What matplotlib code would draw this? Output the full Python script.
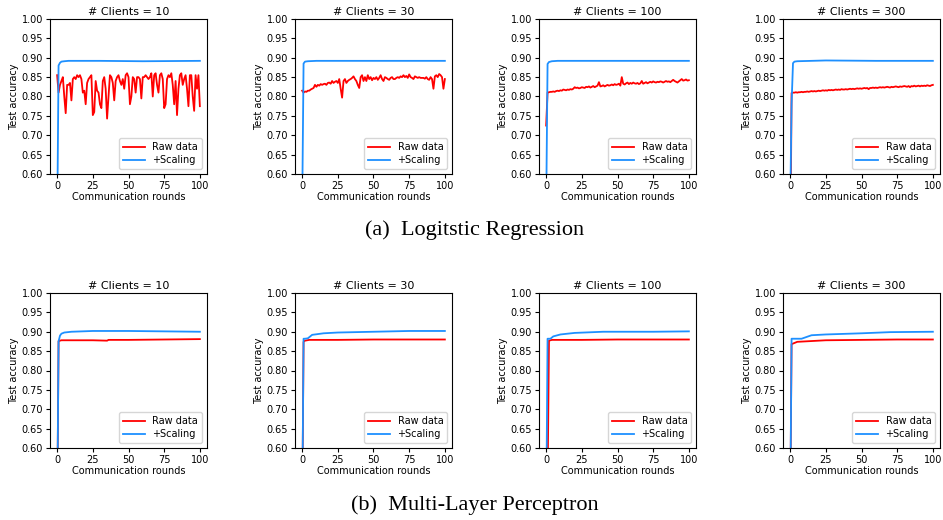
import matplotlib
matplotlib.use('Agg')
import matplotlib.pyplot as plt

clients = [10, 30, 100, 300]
rounds = list(range(101))
red = 'red'
blue = '#1E90FF'

# Logistic regression, raw data (one value per round)
lr_raw_10 = [0.855, 0.810, 0.830, 0.840, 0.850, 0.800, 0.757, 0.830, 0.830, 0.835,
             0.790, 0.845, 0.850, 0.845, 0.855, 0.850, 0.855, 0.845, 0.810, 0.815,
             0.780, 0.835, 0.845, 0.850, 0.855, 0.752, 0.760, 0.840, 0.815, 0.810,
             0.780, 0.770, 0.840, 0.850, 0.820, 0.743, 0.800, 0.855, 0.850, 0.835,
             0.790, 0.840, 0.850, 0.855, 0.840, 0.830, 0.845, 0.820, 0.855, 0.860,
             0.850, 0.780, 0.800, 0.850, 0.845, 0.810, 0.850, 0.850, 0.845, 0.795,
             0.850, 0.850, 0.855, 0.850, 0.845, 0.850, 0.860, 0.800, 0.855, 0.860,
             0.830, 0.810, 0.855, 0.860, 0.845, 0.770, 0.780, 0.845, 0.855, 0.850,
             0.860, 0.830, 0.780, 0.840, 0.752, 0.820, 0.855, 0.860, 0.830, 0.845,
             0.855, 0.820, 0.775, 0.855, 0.855, 0.800, 0.763, 0.855, 0.820, 0.855,
             0.775]
lr_raw_30 = [0.815, 0.810, 0.813, 0.812, 0.815, 0.815, 0.818, 0.820, 0.822, 0.830,
             0.825, 0.830, 0.828, 0.832, 0.830, 0.832, 0.833, 0.830, 0.835, 0.836,
             0.833, 0.840, 0.835, 0.838, 0.840, 0.835, 0.845, 0.820, 0.797, 0.840,
             0.845, 0.835, 0.840, 0.843, 0.845, 0.848, 0.852, 0.845, 0.840, 0.830,
             0.822, 0.850, 0.855, 0.840, 0.850, 0.840, 0.855, 0.845, 0.850, 0.842,
             0.848, 0.845, 0.850, 0.843, 0.848, 0.855, 0.845, 0.840, 0.850, 0.848,
             0.845, 0.843, 0.848, 0.850, 0.845, 0.845, 0.848, 0.850, 0.848, 0.852,
             0.850, 0.855, 0.850, 0.853, 0.848, 0.857, 0.850, 0.848, 0.845, 0.852,
             0.850, 0.848, 0.850, 0.848, 0.848, 0.848, 0.846, 0.850, 0.845, 0.843,
             0.850, 0.845, 0.820, 0.852, 0.855, 0.850, 0.858, 0.855, 0.850, 0.820,
             0.845]
lr_raw_100 = [0.725, 0.810, 0.811, 0.812, 0.812, 0.813, 0.812, 0.814, 0.815, 0.814,
              0.816, 0.815, 0.818, 0.817, 0.816, 0.818, 0.817, 0.819, 0.818, 0.820,
              0.824, 0.822, 0.823, 0.821, 0.822, 0.824, 0.823, 0.822, 0.825, 0.824,
              0.826, 0.823, 0.825, 0.827, 0.824, 0.826, 0.828, 0.837, 0.826, 0.827,
              0.829, 0.826, 0.828, 0.830, 0.828, 0.829, 0.831, 0.829, 0.832, 0.830,
              0.831, 0.833, 0.828, 0.850, 0.833, 0.831, 0.834, 0.836, 0.832, 0.835,
              0.833, 0.836, 0.834, 0.833, 0.835, 0.832, 0.834, 0.840, 0.833, 0.835,
              0.837, 0.834, 0.836, 0.838, 0.836, 0.839, 0.837, 0.836, 0.838, 0.837,
              0.839, 0.838, 0.836, 0.838, 0.840, 0.838, 0.839, 0.837, 0.840, 0.843,
              0.840, 0.838, 0.836, 0.839, 0.842, 0.845, 0.841, 0.842, 0.844, 0.841,
              0.842]
lr_raw_300 = [0.300, 0.809, 0.810, 0.810, 0.811, 0.810, 0.811, 0.811, 0.812, 0.811,
              0.812, 0.812, 0.813, 0.812, 0.813, 0.814, 0.813, 0.814, 0.813, 0.814,
              0.815, 0.814, 0.815, 0.816, 0.815, 0.816, 0.815, 0.817, 0.816, 0.817,
              0.816, 0.817, 0.818, 0.817, 0.818, 0.817, 0.819, 0.818, 0.818, 0.819,
              0.818, 0.819, 0.820, 0.819, 0.820, 0.819, 0.820, 0.821, 0.820, 0.821,
              0.820, 0.821, 0.822, 0.821, 0.822, 0.819, 0.822, 0.822, 0.823, 0.822,
              0.823, 0.822, 0.823, 0.824, 0.823, 0.824, 0.823, 0.824, 0.825, 0.824,
              0.823, 0.825, 0.824, 0.825, 0.826, 0.825, 0.824, 0.826, 0.825, 0.826,
              0.827, 0.826, 0.825, 0.827, 0.824, 0.827, 0.826, 0.828, 0.826, 0.827,
              0.828, 0.826, 0.828, 0.827, 0.828, 0.827, 0.829, 0.828, 0.827, 0.829,
              0.830]

# Logistic regression, +Scaling (rounds where the curve changes)
lr_sc_x = [[0, 1, 2, 3, 5, 8, 15, 30, 60, 100],
           [0, 1, 2, 4, 10, 100],
           [0, 1, 2, 4, 8, 100],
           [0, 1, 2, 3, 5, 25, 60, 100]]
lr_sc_y = [[0.45, 0.880, 0.887, 0.890, 0.891, 0.892, 0.892, 0.892, 0.891, 0.892],
           [0.50, 0.885, 0.890, 0.891, 0.892, 0.892],
           [0.50, 0.884, 0.889, 0.891, 0.892, 0.892],
           [0.50, 0.780, 0.886, 0.890, 0.891, 0.893, 0.892, 0.892]]

# Multi-layer perceptron, raw data
mlp_raw_x = [[0, 1, 3, 10, 25, 35, 36, 50, 75, 100],
             [0, 1, 2, 5, 25, 50, 75, 100],
             [0, 1, 2, 4, 25, 50, 75, 100],
             [0, 1, 5, 15, 25, 50, 75, 100]]
mlp_raw_y = [[0.40, 0.876, 0.878, 0.878, 0.878, 0.877, 0.879, 0.879, 0.880, 0.881],
             [0.40, 0.874, 0.877, 0.879, 0.879, 0.880, 0.880, 0.880],
             [0.40, 0.500, 0.877, 0.879, 0.879, 0.880, 0.880, 0.880],
             [0.40, 0.868, 0.874, 0.876, 0.878, 0.879, 0.880, 0.880]]

# Multi-layer perceptron, +Scaling
mlp_sc_x = [[0, 1, 2, 3, 5, 10, 25, 50, 75, 100],
            [0, 1, 2, 4, 7, 15, 25, 50, 75, 100],
            [0, 1, 3, 5, 10, 20, 40, 75, 100],
            [0, 1, 8, 15, 25, 50, 70, 100]]
mlp_sc_y = [[0.40, 0.875, 0.890, 0.895, 0.898, 0.900, 0.902, 0.902, 0.901, 0.900],
            [0.40, 0.882, 0.882, 0.883, 0.892, 0.896, 0.898, 0.900, 0.902, 0.902],
            [0.40, 0.882, 0.882, 0.888, 0.893, 0.897, 0.900, 0.900, 0.901],
            [0.40, 0.882, 0.882, 0.891, 0.893, 0.896, 0.899, 0.900]]

lr_raw = [lr_raw_10, lr_raw_30, lr_raw_100, lr_raw_300]

fig = plt.figure(figsize=(9.43, 5.2), dpi=100)
W, H = 943, 520
lefts = [50, 295, 539, 783]
tops = [19, 293]


def panel(left, top, title, rx, ry, sx, sy):
    ax = fig.add_axes([left / W, 1 - (top + 155) / H, 157 / W, 155 / H])
    ax.plot(rx, ry, color=red, lw=1.3, label='Raw data')
    ax.plot(sx, sy, color=blue, lw=1.3, label='+Scaling')
    ax.set_ylim(0.6, 1.0)
    ax.set_xlim(-5, 105)
    ax.set_xticks([0, 25, 50, 75, 100])
    ax.set_yticks([0.6, 0.65, 0.7, 0.75, 0.8, 0.85, 0.9, 0.95, 1.0])
    ax.set_yticklabels(['%.2f' % v for v in ax.get_yticks()])
    ax.tick_params(labelsize=7, length=3, pad=2)
    ax.set_title(title, fontsize=8, pad=3)
    ax.set_xlabel('Communication rounds', fontsize=7, labelpad=1)
    ax.set_ylabel('Test accuracy', fontsize=7, labelpad=2)
    ax.legend(loc='lower right', fontsize=7, handlelength=2.2, borderpad=0.4,
              labelspacing=0.3)
    return ax


for i, c in enumerate(clients):
    panel(lefts[i], tops[0], '# Clients = %d' % c, rounds, lr_raw[i],
          lr_sc_x[i], lr_sc_y[i])
    panel(lefts[i], tops[1], '# Clients = %d' % c, mlp_raw_x[i], mlp_raw_y[i],
          mlp_sc_x[i], mlp_sc_y[i])

fig.text(475 / W, 1 - 230 / H, '(a)  Logitstic Regression', family='Liberation Serif',
         fontsize=16, ha='center', va='center')
fig.text(475 / W, 1 - 505 / H, '(b)  Multi-Layer Perceptron', family='Liberation Serif',
         fontsize=16, ha='center', va='center')

fig.savefig('out.png', dpi=100)
